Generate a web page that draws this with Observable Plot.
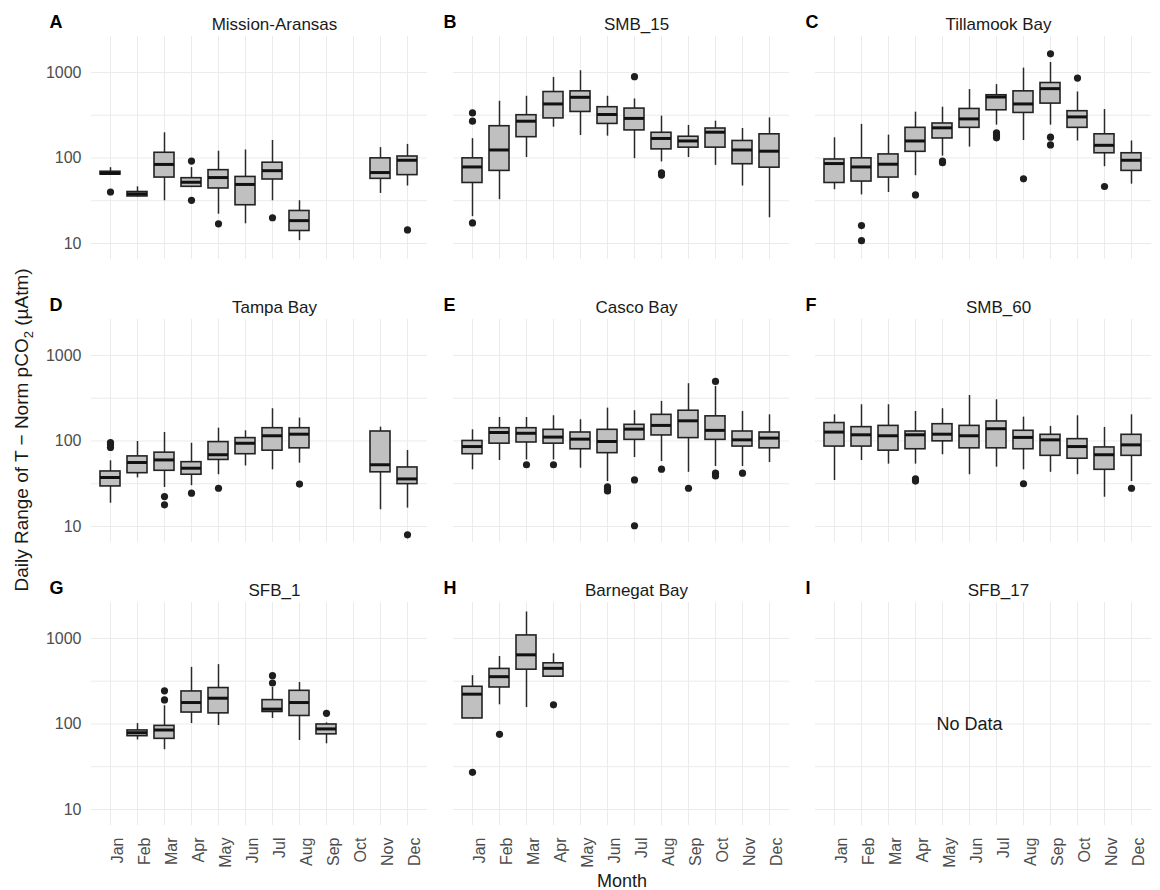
<!DOCTYPE html>
<html><head><meta charset="utf-8">
<script src="https://cdn.jsdelivr.net/npm/d3@7"></script>
<script src="https://cdn.jsdelivr.net/npm/@observablehq/plot@0.6"></script>
<style>
body{margin:0;background:#fff;}
#chart{width:1160px;height:890px;}
</style></head><body><div id="chart"></div>
<script>
const months = ["Jan","Feb","Mar","Apr","May","Jun","Jul","Aug","Sep","Oct","Nov","Dec"];
const stationNames = ["Mission-Aransas","SMB_15","Tillamook Bay","Tampa Bay","Casco Bay","SMB_60","SFB_1","Barnegat Bay","SFB_17"];
const panelLetters = ["A","B","C","D","E","F","G","H","I"];
const yTicks = [10, 100, 1000];
const yGrid = [10, 31.62, 100, 316.2, 1000];

// [month, lower whisker, q1, median, q3, upper whisker]
const missionAransas = [
  ["Jan",63,64,66,69,77],["Feb",35,35.5,38,40,46],["Mar",31.6,59,84,115,197],
  ["Apr",45,46,52,58,77],["May",22,44,59,72,120],["Jun",17,28,49,60,124],
  ["Jul",31.6,56,71,88,160],["Aug",10.8,14,18.5,24,31.6],
  ["Nov",38.5,57,67.5,99,132],["Dec",47,63,94,104,144]
];
const missionAransasOut = [["Jan",40],["Apr",92],["Apr",32],["May",17],["Jul",20],["Dec",14.4]];

const smb15 = [
  ["Jan",20.6,51,78.5,99,168],["Feb",32.5,70.6,124,235,460],["Mar",101,175,269,316,526],
  ["Apr",229,290,428,590,875],["May",183,345,512,601,1047],["Jun",180,250,322,392,526],
  ["Jul",98,210,290,378,490],["Aug",90,126,169,197,308],["Sep",101,132,158,177,240],
  ["Oct",82,132,200,221,269],["Nov",47,84.5,124,158,221],["Dec",20,77,120,189,294]
];
const smb15Out = [["Jan",336],["Jan",269],["Jan",17.4],["Jul",892],["Aug",63],["Aug",67]];

const tillamook = [
  ["Jan",42.5,51,86,96,172],["Feb",37,53,78.5,99,247],["Mar",39.5,59,84.5,110,185],
  ["Apr",62,118,158,225,343],["May",105,169,225,253,392],["Jun",134,225,286,374,630],
  ["Jul",242,361,516,541,720],["Aug",160,336,428,601,1122],["Sep",242,432,646,752,1306],
  ["Oct",158,225,302,352,590],["Nov",79,113.5,140.6,189,368],["Dec",49.4,70.6,94,113.5,158]
];
const tillamookOut = [["Feb",16.2],["Feb",10.8],["Apr",37],["May",88],["May",92],
  ["Jul",196],["Jul",182],["Jul",172],["Aug",57],["Sep",1648],["Sep",175],["Sep",142],
  ["Oct",859],["Nov",46.4]];

const tampa = [
  ["Jan",18.7,29.4,37.4,44,58.6],["Feb",37,42,56,66,98.6],["Mar",28.6,44.8,60,73,125.6],
  ["Apr",30,40.3,48,56.5,94],["May",40.3,60,69,97,141],["Jun",51,70,94,108,131.5],
  ["Jul",46,77,115,141,238],["Aug",55,82,120,141,185],
  ["Nov",15.7,43,52.7,129,145],["Dec",16.4,31.3,36,49,77.4]
];
const tampaOut = [["Jan",96],["Jan",90],["Jan",84],["Mar",22.4],["Mar",17.9],["Apr",24.5],
  ["May",28],["Aug",31.3],["Dec",8]];

const casco = [
  ["Jan",46,70,86,100,135],["Feb",59,93,125.6,141,188],["Mar",60,96,123,141,188],
  ["Apr",60,93,111,135,197],["May",48,80,105,125.6,177],["Jun",33.6,72,98.6,135,242],
  ["Jul",64,103,137.5,154.5,225.6],["Aug",57.5,116,152,202,290],["Sep",43,108,172,225.6,467],
  ["Oct",50.3,103,133,194,434],["Nov",50.3,86,103,129,221],["Dec",56,82,108,125.6,202]
];
const cascoOut = [["Mar",52.7],["Apr",52.7],["Jun",29],["Jun",27.5],["Jun",26],["Jul",35],
  ["Jul",10.2],["Aug",46.8],["Sep",28],["Oct",497],["Oct",42],["Oct",39],["Nov",42]];

const smb60 = [
  ["Jan",34.5,86,127,162,202],["Feb",59,86,118,145,265],["Mar",53.6,77,115,150,265],
  ["Apr",53.6,80,118,129,221],["May",69,99,120,157,238],["Jun",40.3,82,115,150,340],
  ["Jul",49.4,82,139,169,303],["Aug",46,80,110,131.5,190],["Sep",43,67,103,118,148],
  ["Oct",40.3,62,86,105,197],["Nov",22,46,69,84,144],["Dec",33.6,67,90,118,202]
];
const smb60Out = [["Apr",36],["Apr",34],["Aug",31.6],["Dec",28]];

const sfb1 = [
  ["Feb",65,72,79,84,101],["Mar",50,67,85,95,163],["Apr",101,136,178,240,459],
  ["May",96,133,200,263,494],["Jul",116,138,149,190,267],["Aug",64,124,178,244,306],
  ["Sep",58.6,75.6,87.5,98.6,103]
];
const sfb1Out = [["Mar",244],["Mar",191],["Jul",367],["Jul",301],["Sep",133]];

const barnegat = [
  ["Jan",115,116,223,272,367],["Feb",167.5,267,357,440,614],
  ["Mar",155.6,431,643,1084,2037],["Apr",350,357,447,512,661]
];
const barnegatOut = [["Jan",27.2],["Feb",75.7],["Apr",167.5]];

const sfb17 = [];
const sfb17Out = [];

const stationBoxes = [missionAransas, smb15, tillamook, tampa, casco, smb60, sfb1, barnegat, sfb17];
const stationOutliers = [missionAransasOut, smb15Out, tillamookOut, tampaOut, cascoOut, smb60Out, sfb1Out, barnegatOut, sfb17Out];

const panels = stationNames.map((name, i) => ({name, letter: panelLetters[i], col: i % 3, row: Math.floor(i / 3)}));
const boxes = stationBoxes.flatMap((arr, i) => arr.map(([month, lo, q1, med, q3, hi]) =>
  ({month, lo, q1, med, q3, hi, col: i % 3, row: Math.floor(i / 3)})));
const outliers = stationOutliers.flatMap((arr, i) => arr.map(([month, value]) =>
  ({month, value, col: i % 3, row: Math.floor(i / 3)})));
const empty = panels.filter((p, i) => stationBoxes[i].length === 0).map(p => ({...p, month: "Jun", value: 100}));

const chart = Plot.plot({
  width: 1160, height: 890,
  marginLeft: 90, marginRight: 7, marginTop: 35, marginBottom: 65,
  style: {fontFamily: "'Liberation Sans', Arial, sans-serif", background: "#fff", overflow: "visible"},
  fx: {domain: [0, 1, 2], paddingInner: 0.0716, paddingOuter: 0, axis: null},
  fy: {domain: [0, 1, 2], paddingInner: 0.2134, paddingOuter: 0, axis: null},
  x: {domain: months, paddingInner: 0.25, paddingOuter: 0.165, label: null},
  y: {type: "log", domain: [6.5, 2630], label: null},
  marks: [
    Plot.gridY(yGrid, {stroke: "#ebebeb", strokeOpacity: 1, strokeWidth: 1}),
    Plot.gridX(months, {stroke: "#ebebeb", strokeOpacity: 1, strokeWidth: 1}),
    Plot.axisY(yTicks, {tickSize: 0, tickPadding: 10, fontSize: 16, tickFormat: d => String(d), color: "#4d4d4d", label: null}),
    Plot.axisX(months, {tickSize: 0, tickPadding: 12, tickRotate: -90, fontSize: 16, dx: 7, color: "#4d4d4d", label: null}),
    Plot.ruleX(boxes, {x: "month", y1: "lo", y2: "hi", fx: "col", fy: "row", stroke: "#2a2a2a", strokeWidth: 1.5}),
    Plot.barY(boxes, {x: "month", y1: "q1", y2: "q3", fx: "col", fy: "row", fill: "#c0c0c0", stroke: "#222", strokeWidth: 1.6}),
    Plot.tickY(boxes, {x: "month", y: "med", fx: "col", fy: "row", stroke: "#111", strokeWidth: 3}),
    Plot.dot(outliers, {x: "month", y: "value", fx: "col", fy: "row", r: 3.6, fill: "#1e1e1e", stroke: null}),
    Plot.text(panels, {fx: "col", fy: "row", text: "name", frameAnchor: "top", dx: 15, dy: -7, lineAnchor: "bottom", fontSize: 17, fill: "#1a1a1a"}),
    Plot.text(panels.filter(p => p.col === 0), {fx: "col", fy: "row", text: "letter", frameAnchor: "top-left", textAnchor: "start", dx: -42, dy: -9, lineAnchor: "bottom", fontSize: 18, fontWeight: "bold", fill: "#000"}),
    Plot.text(panels.filter(p => p.col !== 0), {fx: "col", fy: "row", text: "letter", frameAnchor: "top-left", textAnchor: "start", dx: -10, dy: -9, lineAnchor: "bottom", fontSize: 18, fontWeight: "bold", fill: "#000"}),
    Plot.text(empty, {x: "month", y: "value", fx: "col", fy: "row", text: () => "No Data", fontSize: 18, fill: "#1a1a1a"})
  ]
});

const svg = d3.select(chart);
const yt = svg.append("text")
  .attr("transform", "translate(28,430) rotate(-90)")
  .attr("text-anchor", "middle")
  .attr("font-size", 19)
  .attr("fill", "#1a1a1a");
yt.append("tspan").text("Daily Range of T \u2212 Norm pCO");
yt.append("tspan").attr("font-size", 13).attr("dy", 5).text("2");
yt.append("tspan").attr("dy", -5).text(" (\u00b5Atm)");
svg.append("text")
  .attr("x", 622).attr("y", 887)
  .attr("text-anchor", "middle")
  .attr("font-size", 18)
  .attr("fill", "#1a1a1a")
  .text("Month");

document.getElementById("chart").appendChild(chart);
</script>
</body></html>
